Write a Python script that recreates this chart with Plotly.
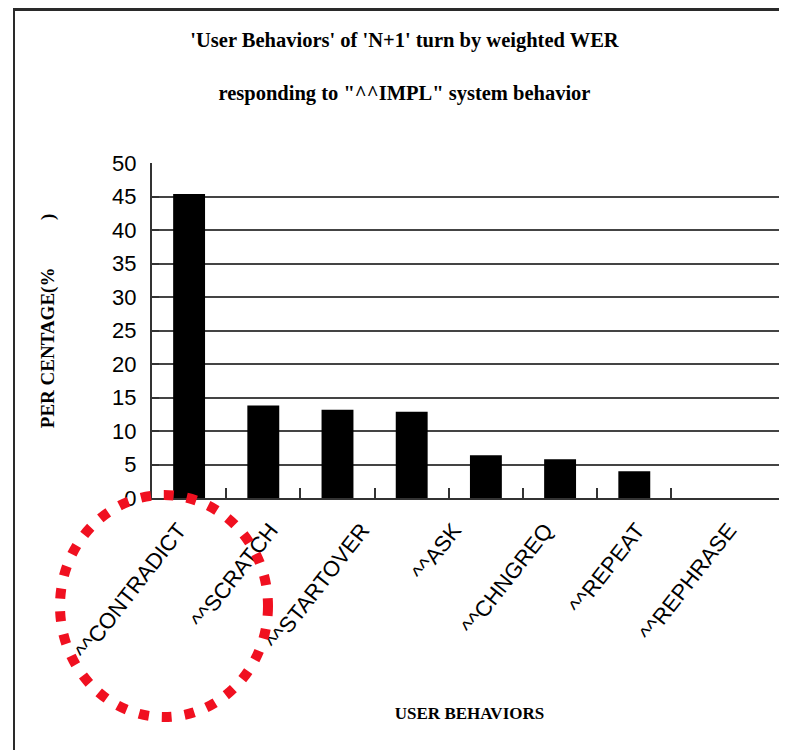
import plotly.graph_objects as go

# ---- data ----
categories = ["CONTRADICT", "SCRATCH", "STARTOVER", "ASK", "CHNGREQ", "REPEAT", "REPHRASE"]
percentages = [45.4, 13.8, 13.2, 12.9, 6.4, 5.8, 4.0]
label_prefix = "^^"
y_ticks = [0, 5, 10, 15, 20, 25, 30, 35, 40, 45, 50]

labels = [label_prefix + c for c in categories]

title_line1 = "'User Behaviors' of 'N+1' turn by weighted WER"
title_line2 = "responding to \"^^IMPL\" system behavior"
x_title = "USER BEHAVIORS"
NB = "\u00a0"
y_title = ('<span style="color:rgba(0,0,0,0)">__</span>'
           + "PER CENTAGE(%" + NB * 10 + ")")

# page is offset by the browser's 8px body margin
OFF = 8
PAGE_W, PAGE_H = 787, 750
W, H = PAGE_W - OFF, PAGE_H - OFF
L, R, T = 152 - OFF, 0, 163 - OFF
B = H - (498 - OFF)

fig = go.Figure()
fig.add_trace(go.Bar(
    x=labels, y=percentages, marker=dict(color="black", line=dict(width=0)),
    xaxis="x", yaxis="y", hoverinfo="skip", showlegend=False,
))
# invisible companion trace that carries the slanted category labels
fig.add_trace(go.Scatter(
    x=labels, y=percentages, mode="markers", marker=dict(size=1, opacity=0),
    xaxis="x2", yaxis="y", hoverinfo="skip", showlegend=False,
))

serif = "Liberation Serif, Times New Roman, serif"
sans = "Liberation Sans, Arial, sans-serif"
narrow = "Liberation Sans Narrow, Arial Narrow, Liberation Sans, sans-serif"

fig.update_layout(
    width=W, height=H,
    margin=dict(l=L, r=R, t=T, b=B, autoexpand=False),
    paper_bgcolor="white", plot_bgcolor="white",
    bargap=0.57,
    title=dict(
        text=title_line1 + "<br><br>" + title_line2,
        font=dict(family=serif, size=20.5, color="black", weight="bold"),
        x=396.5 / W, xanchor="center", xref="container",
        y=1 - 39 / H, yanchor="top", yref="container",
    ),
    xaxis=dict(
        type="category", range=[-0.5, 8.058],
        showticklabels=False, ticks="inside", tickson="boundaries", ticklen=10,
        tickwidth=2, tickcolor="#333",
        showline=True, linecolor="#333", linewidth=2, showgrid=False,
        zeroline=False,
        title=dict(text=x_title, standoff=208,
                   font=dict(family=serif, size=17, color="black", weight="bold")),
    ),
    xaxis2=dict(
        type="category", overlaying="x", anchor="y", side="bottom",
        range=[-0.29, 6.635],
        tickangle=-52, ticks="", showline=False, showgrid=False, zeroline=False,
        ticklabelstandoff=14,
        tickfont=dict(family=sans, size=22, color="black"),
    ),
    yaxis=dict(
        range=[0, 50.04], tickvals=y_ticks, ticktext=[str(v) for v in y_ticks],
        ticks="inside", ticklen=7, tickwidth=2, tickcolor="#333",
        showline=True, linecolor="#333", linewidth=2,
        showgrid=True, gridcolor="#444", gridwidth=2, zeroline=False,
        ticklabelstandoff=9,
        tickfont=dict(family=narrow, size=22, color="black"),
        title=dict(text=y_title, standoff=52,
                   font=dict(family=serif, size=19, color="black", weight="bold")),
    ),
)

# helpers: page pixel -> paper coordinates (for decorations only)
px = lambda x: (x - OFF - L) / (W - L - R)
py = lambda y: (H - B - (y - OFF)) / (H - T - B)

# picture frame (top and left edge of the original figure border)
fig.add_shape(type="line", xref="paper", yref="paper",
              x0=px(13), x1=px(PAGE_W + 5), y0=py(OFF + 1.5), y1=py(OFF + 1.5),
              line=dict(color="#2a2a2a", width=3))
fig.add_shape(type="line", xref="paper", yref="paper",
              x0=px(14), x1=px(14), y0=py(OFF), y1=py(PAGE_H + 5),
              line=dict(color="#2a2a2a", width=2))
# red dotted highlight circle
fig.add_shape(type="circle", xref="paper", yref="paper",
              x0=px(60), x1=px(268), y0=py(717), y1=py(495),
              line=dict(color="#f01020", width=10, dash="10px,13px"))

fig.write_html("out.html")
